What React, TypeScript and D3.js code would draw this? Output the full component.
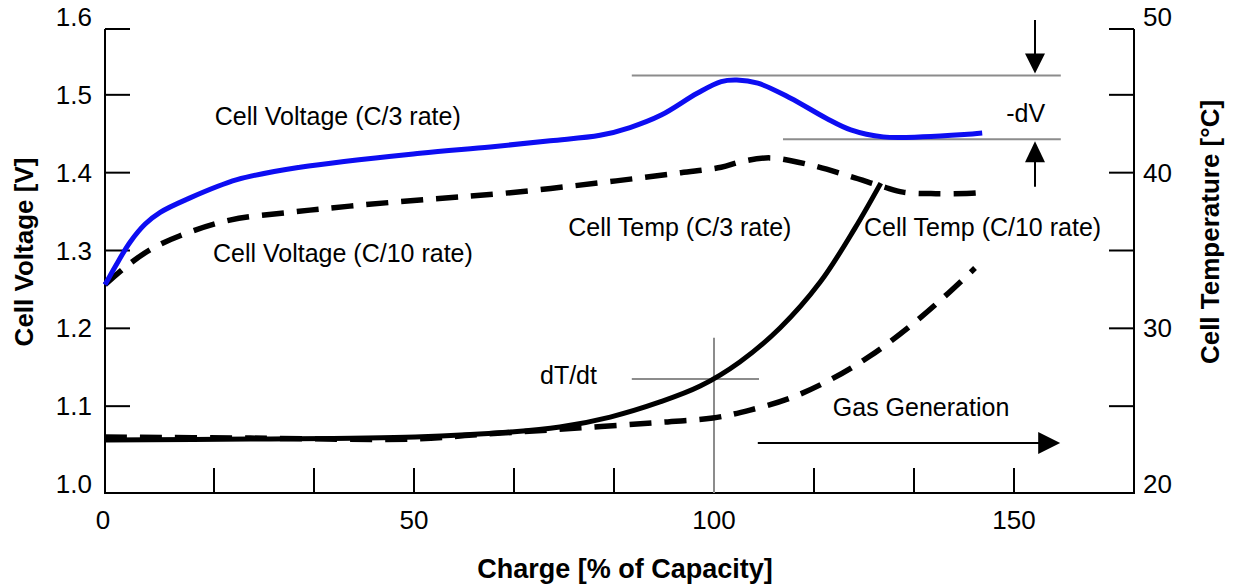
import * as d3 from 'd3';
import { useEffect, useRef } from 'react';

const width = 1234;
const height = 585;
const frame = { left: 105, right: 1134, top: 29, bottom: 493 };

// C/3 rate cell voltage (blue)
const v3Charge = [-1.5, 0.7, 2.7, 5.2, 7.7, 12.2, 20.5, 31, 51, 62.7, 72.7, 81, 86, 91.2, 97.2, 101.2, 103.8, 107.3, 112.7, 118.7, 122.8, 128.2, 134.8, 141.7, 144.7];
const v3Volt = [1.256, 1.286, 1.311, 1.334, 1.349, 1.366, 1.391, 1.407, 1.425, 1.433, 1.441, 1.448, 1.458, 1.474, 1.502, 1.517, 1.519, 1.515, 1.496, 1.47, 1.455, 1.446, 1.446, 1.449, 1.451];

// C/10 rate cell voltage (dashed)
const v10Charge = [-1.5, 1.8, 6, 11, 19.3, 29.3, 39.3, 51, 64.3, 81, 94.5, 101.2, 104.5, 109.3, 116, 122.8, 128.2, 131.5, 137, 143.7, 144.7];
const v10Volt = [1.256, 1.278, 1.301, 1.319, 1.339, 1.349, 1.357, 1.365, 1.373, 1.387, 1.4, 1.407, 1.414, 1.419, 1.41, 1.395, 1.382, 1.375, 1.373, 1.374, 1.375];

// C/3 rate cell temperature (solid black)
const t3Charge = [-1.5, 22.7, 50.2, 66.2, 74.3, 82.7, 91, 97.7, 104.3, 111, 117.7, 123.5, 127.8];
const t3Temp = [22.83, 22.89, 23.02, 23.34, 23.66, 24.3, 25.27, 26.29, 27.84, 30.02, 32.97, 36.44, 39.33];

// C/10 rate cell temperature (dashed black)
const t10Charge = [-1.5, 22.7, 50.2, 59.8, 72.5, 91.7, 99.8, 106, 112.7, 119.3, 126, 132.7, 138.5, 143.5];
const t10Temp = [23.02, 22.95, 22.89, 23.15, 23.47, 23.98, 24.24, 24.75, 25.52, 26.68, 28.22, 30.15, 32.07, 33.87];

const xLabels = [0, 50, 100, 150];
const xMinorTicks = [16.67, 33.33, 50, 66.67, 83.33, 100, 116.67, 133.33, 150];
const vTicks = [1.0, 1.1, 1.2, 1.3, 1.4, 1.5, 1.6];
const tTicks = [20, 25, 30, 35, 40, 45, 50];

const font = "'Liberation Sans', Arial, sans-serif";

const App = () => {
  const ref = useRef<SVGSVGElement | null>(null);

  useEffect(() => {
    const svg = d3.select(ref.current!);
    svg.selectAll('*').remove();

    const x = d3.scaleLinear().domain([-1.5, 170]).range([frame.left, frame.right]);
    const yV = d3.scaleLinear().domain([1.0, 1.6]).range([484, 17]);
    const yT = d3.scaleLinear().domain([20, 50]).range([484, 17]);

    const g = svg.append('g');

    // frame lines (left, bottom, right)
    const axisColor = '#000';
    g.append('path')
      .attr('d', `M${frame.left},${frame.top}V${frame.bottom}H${frame.right}V${frame.top}`)
      .attr('fill', 'none').attr('stroke', axisColor).attr('stroke-width', 2);

    // tick marks, pointing inward
    const tickLen = 25;
    const leftTickYs = [frame.top, ...vTicks.slice(1, -1).map(yV)];
    leftTickYs.forEach(ty => {
      g.append('line').attr('x1', frame.left).attr('x2', frame.left + tickLen)
        .attr('y1', ty).attr('y2', ty).attr('stroke', axisColor).attr('stroke-width', 2);
    });
    const rightTickYs = [frame.top, ...tTicks.slice(1, -1).map(yT)];
    rightTickYs.forEach(ty => {
      g.append('line').attr('x1', frame.right - tickLen).attr('x2', frame.right)
        .attr('y1', ty).attr('y2', ty).attr('stroke', axisColor).attr('stroke-width', 2);
    });
    xMinorTicks.forEach(tx => {
      g.append('line').attr('x1', x(tx)).attr('x2', x(tx))
        .attr('y1', frame.bottom - tickLen).attr('y2', frame.bottom)
        .attr('stroke', axisColor).attr('stroke-width', 2);
    });

    // tick labels
    g.selectAll('.vlab').data(vTicks).enter().append('text')
      .attr('x', 92).attr('y', d => yV(d)).attr('dy', '0.35em')
      .attr('text-anchor', 'end').attr('font-family', font).attr('font-size', 26)
      .text(d => d.toFixed(1));
    g.selectAll('.tlab').data(tTicks.filter(d => d % 10 === 0)).enter().append('text')
      .attr('x', 1143).attr('y', d => yT(d)).attr('dy', '0.35em')
      .attr('font-family', font).attr('font-size', 26)
      .text(d => d);
    g.selectAll('.xlab').data(xLabels).enter().append('text')
      .attr('x', d => (d === 0 ? frame.left - 2 : x(d))).attr('y', 529)
      .attr('text-anchor', 'middle').attr('font-family', font).attr('font-size', 26)
      .text(d => d);

    // axis titles
    g.append('text')
      .attr('transform', `translate(33,252) rotate(-90)`)
      .attr('text-anchor', 'middle').attr('font-family', font).attr('font-size', 26)
      .attr('font-weight', 'bold').text('Cell Voltage [V]');
    g.append('text')
      .attr('transform', `translate(1219,232) rotate(-90)`)
      .attr('text-anchor', 'middle').attr('font-family', font).attr('font-size', 26)
      .attr('font-weight', 'bold').text('Cell Temperature [°C]');
    g.append('text')
      .attr('x', 625).attr('y', 578)
      .attr('text-anchor', 'middle').attr('font-family', font).attr('font-size', 27)
      .attr('font-weight', 'bold').text('Charge [% of Capacity]');

    // annotation guides (grey)
    const grey = '#8c8c8c';
    const guide = (x1: number, y1: number, x2: number, y2: number) =>
      g.append('line').attr('x1', x1).attr('y1', y1).attr('x2', x2).attr('y2', y2)
        .attr('stroke', grey).attr('stroke-width', 2);
    guide(x(86.3), yV(1.525), x(157.8), yV(1.525));
    guide(x(111.5), yV(1.443), x(157.8), yV(1.443));
    guide(x(100), yT(29.4), x(100), frame.bottom);
    guide(x(86.3), yT(26.74), x(107.5), yT(26.74));

    // curves
    const line = d3.line<[number, number]>().curve(d3.curveCatmullRom.alpha(0.5));
    const series = [
      { xs: t10Charge, ys: t10Temp, sc: yT, color: '#000', dash: '22,13', w: 5.5 },
      { xs: t3Charge, ys: t3Temp, sc: yT, color: '#000', dash: null, w: 5 },
      { xs: v10Charge, ys: v10Volt, sc: yV, color: '#000', dash: '22,13', w: 5.5 },
      { xs: v3Charge, ys: v3Volt, sc: yV, color: '#0d0df2', dash: null, w: 5 },
    ];
    series.forEach(s => {
      const pts: [number, number][] = s.xs.map((c, i) => [x(c), s.sc(s.ys[i])]);
      const p = g.append('path').attr('d', line(pts)!)
        .attr('fill', 'none').attr('stroke', s.color).attr('stroke-width', s.w);
      if (s.dash) p.attr('stroke-dasharray', s.dash);
    });

    // -dV arrows
    const ax = x(153.5);
    const downTip = yV(1.525) - 2;
    g.append('line').attr('x1', ax).attr('x2', ax).attr('y1', yV(1.596)).attr('y2', downTip - 15)
      .attr('stroke', '#000').attr('stroke-width', 2);
    g.append('path').attr('d', `M${ax - 10},${downTip - 20}L${ax + 10},${downTip - 20}L${ax},${downTip}Z`).attr('fill', '#000');
    const upTip = yV(1.443) + 2;
    g.append('line').attr('x1', ax).attr('x2', ax).attr('y1', upTip + 15).attr('y2', yV(1.382))
      .attr('stroke', '#000').attr('stroke-width', 2);
    g.append('path').attr('d', `M${ax - 10},${upTip + 21}L${ax + 10},${upTip + 21}L${ax},${upTip}Z`).attr('fill', '#000');

    // gas generation arrow
    const gy = yT(22.63);
    const gx2 = x(157.7);
    g.append('line').attr('x1', x(107.3)).attr('x2', gx2 - 18).attr('y1', gy).attr('y2', gy)
      .attr('stroke', '#000').attr('stroke-width', 2);
    g.append('path').attr('d', `M${gx2 - 22},${gy - 11}L${gx2 - 22},${gy + 11}L${gx2},${gy}Z`).attr('fill', '#000');

    // labels
    const label = (tx: number, ty: number, s: string) =>
      g.append('text').attr('x', tx).attr('y', ty).attr('font-family', font)
        .attr('font-size', 25).attr('fill', '#000').text(s);
    label(x(16.8), yV(1.461), 'Cell Voltage (C/3 rate)');
    label(x(16.5), yV(1.285), 'Cell Voltage (C/10 rate)');
    label(x(75.7), yT(35.93), 'Cell Temp (C/3 rate)');
    label(x(125), yT(35.93), 'Cell Temp (C/10 rate)');
    label(x(71), yT(26.42), 'dT/dt');
    label(x(119.8), yT(24.37), 'Gas Generation');
    label(x(148.7), yV(1.465), '-dV');
  }, []);

  return (
    <svg ref={ref} width={width} height={height}
      style={{ position: 'absolute', left: 0, top: 0, background: '#fff' }} />
  );
};

export default App;
